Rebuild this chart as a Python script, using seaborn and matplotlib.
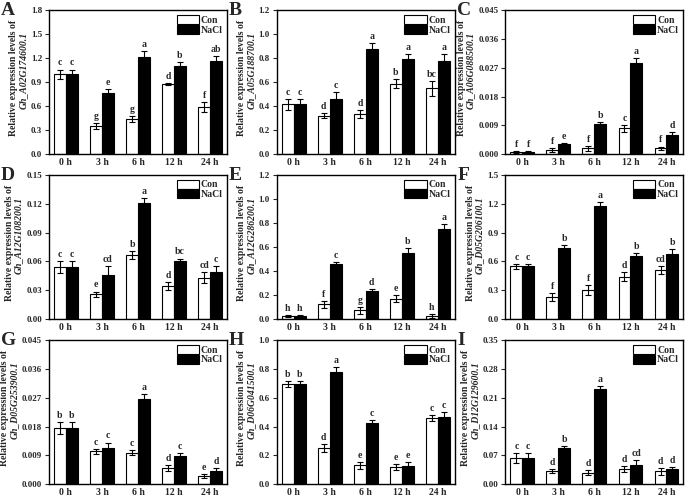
import numpy as np
import pandas as pd
import matplotlib.pyplot as plt
import seaborn as sns
from matplotlib.patches import Patch
from matplotlib.ticker import FormatStrFormatter

# x categories
times = ['0 h', '3 h', '6 h', '12 h', '24 h']

# panel A  Gh_A02G174600.1
a_con = [1.00, 0.35, 0.44, 0.88, 0.59]
a_con_sd = [0.06, 0.04, 0.04, 0.01, 0.06]
a_nacl = [1.00, 0.77, 1.22, 1.10, 1.17]
a_nacl_sd = [0.06, 0.05, 0.07, 0.05, 0.055]
a_con_lt = ['c', 'g', 'g', 'd', 'f']
a_nacl_lt = ['c', 'e', 'a', 'b', 'ab']

# panel B  Gh_A05G188700.1
b_con = [0.415, 0.32, 0.335, 0.59, 0.55]
b_con_sd = [0.045, 0.02, 0.035, 0.04, 0.06]
b_nacl = [0.415, 0.46, 0.875, 0.795, 0.775]
b_nacl_sd = [0.045, 0.06, 0.05, 0.045, 0.06]
b_con_lt = ['c', 'd', 'd', 'b', 'bc']
b_nacl_lt = ['c', 'c', 'a', 'a', 'a']

# panel C  Gh_A06G088500.1
c_con = [0.0008, 0.0013, 0.0018, 0.0081, 0.0018]
c_con_sd = [0.0003, 0.0005, 0.0007, 0.001, 0.0006]
c_nacl = [0.0008, 0.0031, 0.0094, 0.0284, 0.0059]
c_nacl_sd = [0.0003, 0.0005, 0.0008, 0.0016, 0.0011]
c_con_lt = ['f', 'f', 'f', 'c', 'f']
c_nacl_lt = ['f', 'e', 'b', 'a', 'd']

# panel D  Gh_A12G108200.1
d_con = [0.054, 0.0255, 0.067, 0.0343, 0.043]
d_con_sd = [0.006, 0.003, 0.004, 0.004, 0.006]
d_nacl = [0.054, 0.0456, 0.121, 0.060, 0.049]
d_nacl_sd = [0.006, 0.010, 0.005, 0.003, 0.006]
d_con_lt = ['c', 'e', 'b', 'd', 'cd']
d_nacl_lt = ['c', 'cd', 'a', 'bc', 'c']

# panel E  Gh_A12G286200.1
e_con = [0.025, 0.12, 0.07, 0.17, 0.025]
e_con_sd = [0.01, 0.03, 0.03, 0.03, 0.015]
e_nacl = [0.025, 0.46, 0.23, 0.55, 0.75]
e_nacl_sd = [0.01, 0.015, 0.02, 0.04, 0.04]
e_con_lt = ['h', 'f', 'g', 'e', 'h']
e_nacl_lt = ['h', 'c', 'd', 'b', 'a']

# panel F  Gh_D05G206100.1
f_con = [0.55, 0.23, 0.30, 0.44, 0.51]
f_con_sd = [0.025, 0.04, 0.05, 0.045, 0.045]
f_nacl = [0.55, 0.735, 1.18, 0.657, 0.68]
f_nacl_sd = [0.025, 0.04, 0.04, 0.03, 0.05]
f_con_lt = ['c', 'f', 'f', 'd', 'cd']
f_nacl_lt = ['c', 'b', 'a', 'b', 'b']

# panel G  Gh_D05G253900.1
g_con = [0.0175, 0.0102, 0.0098, 0.0051, 0.0026]
g_con_sd = [0.0018, 0.0008, 0.0007, 0.0009, 0.0006]
g_nacl = [0.0175, 0.0112, 0.0265, 0.0087, 0.0041]
g_nacl_sd = [0.0018, 0.0018, 0.0018, 0.0009, 0.001]
g_con_lt = ['b', 'c', 'c', 'd', 'e']
g_nacl_lt = ['b', 'c', 'a', 'c', 'd']

# panel H  Gh_D06G041500.1
h_con = [0.696, 0.253, 0.13, 0.118, 0.46]
h_con_sd = [0.02, 0.028, 0.022, 0.02, 0.018]
h_nacl = [0.696, 0.777, 0.425, 0.128, 0.466]
h_nacl_sd = [0.02, 0.04, 0.023, 0.022, 0.035]
h_con_lt = ['b', 'd', 'e', 'e', 'c']
h_nacl_lt = ['b', 'a', 'c', 'e', 'c']

# panel I  Gh_D12G129600.1
i_con = [0.063, 0.032, 0.028, 0.036, 0.031]
i_con_sd = [0.013, 0.005, 0.007, 0.007, 0.009]
i_nacl = [0.063, 0.088, 0.231, 0.046, 0.036]
i_nacl_sd = [0.013, 0.004, 0.008, 0.012, 0.005]
i_con_lt = ['c', 'd', 'd', 'd', 'd']
i_nacl_lt = ['c', 'b', 'a', 'cd', 'd']

panels = [
    ('A', 'Gh_A02G174600.1', a_con, a_con_sd, a_nacl, a_nacl_sd, a_con_lt, a_nacl_lt, 1.8, 0.3, '%.1f'),
    ('B', 'Gh_A05G188700.1', b_con, b_con_sd, b_nacl, b_nacl_sd, b_con_lt, b_nacl_lt, 1.2, 0.2, '%.1f'),
    ('C', 'Gh_A06G088500.1', c_con, c_con_sd, c_nacl, c_nacl_sd, c_con_lt, c_nacl_lt, 0.045, 0.009, '%.3f'),
    ('D', 'Gh_A12G108200.1', d_con, d_con_sd, d_nacl, d_nacl_sd, d_con_lt, d_nacl_lt, 0.15, 0.03, '%.2f'),
    ('E', 'Gh_A12G286200.1', e_con, e_con_sd, e_nacl, e_nacl_sd, e_con_lt, e_nacl_lt, 1.2, 0.2, '%.1f'),
    ('F', 'Gh_D05G206100.1', f_con, f_con_sd, f_nacl, f_nacl_sd, f_con_lt, f_nacl_lt, 1.5, 0.3, '%.1f'),
    ('G', 'Gh_D05G253900.1', g_con, g_con_sd, g_nacl, g_nacl_sd, g_con_lt, g_nacl_lt, 0.045, 0.009, '%.3f'),
    ('H', 'Gh_D06G041500.1', h_con, h_con_sd, h_nacl, h_nacl_sd, h_con_lt, h_nacl_lt, 1.0, 0.2, '%.1f'),
    ('I', 'Gh_D12G129600.1', i_con, i_con_sd, i_nacl, i_nacl_sd, i_con_lt, i_nacl_lt, 0.35, 0.07, '%.2f'),
]

sns.set_theme(style='ticks')
plt.rcParams['font.family'] = ['Liberation Serif', 'DejaVu Serif']
plt.rcParams['font.weight'] = 'bold'
plt.rcParams['axes.linewidth'] = 1.0

fig = plt.figure(figsize=(6.85, 4.99), dpi=100)

col_left = [0.0715, 0.404, 0.7377]
row_bottom = [0.691, 0.361, 0.030]
ax_w, ax_h = 0.26, 0.288

axes = []
for k, (tag, gene, con, con_sd, nacl, nacl_sd, con_lt, nacl_lt, ymax, step, fmt) in enumerate(panels):
    ax = fig.add_axes([col_left[k % 3], row_bottom[k // 3], ax_w, ax_h])
    axes.append(ax)
    df = pd.DataFrame({
        'time': times * 2,
        'group': ['Con'] * 5 + ['NaCl'] * 5,
        'value': con + nacl,
    })
    sns.barplot(data=df, x='time', y='value', hue='group', order=times,
                hue_order=['Con', 'NaCl'], palette={'Con': 'white', 'NaCl': 'black'},
                edgecolor='black', linewidth=0.8, width=0.66, errorbar=None,
                legend=False, ax=ax)

    sds = [con_sd, nacl_sd]
    lts = [con_lt, nacl_lt]
    means = [con, nacl]
    bar_sets = list(ax.containers)
    for h, cont in enumerate(bar_sets):
        for j, bar in enumerate(cont.patches):
            xc = bar.get_x() + bar.get_width() / 2
            ax.errorbar(xc, means[h][j], yerr=sds[h][j], color='black',
                        elinewidth=0.8, capsize=2.2, capthick=0.8)
            ax.annotate(lts[h][j], (xc, means[h][j] + sds[h][j]),
                        xytext=(0, 1.5), textcoords='offset points',
                        ha='center', va='bottom', fontsize=7, fontweight='bold')

    ax.set_xlim(-0.47, 4.47)
    ax.set_ylim(0, ymax)
    ax.set_yticks(np.arange(0, ymax + step / 2, step))
    ax.yaxis.set_major_formatter(FormatStrFormatter(fmt))
    ax.tick_params(axis='y', length=3, width=0.8, labelsize=6.4, pad=2)
    ax.tick_params(axis='x', length=0, labelsize=7, pad=3)
    for lab in ax.get_xticklabels() + ax.get_yticklabels():
        lab.set_fontweight('bold')
    ax.set_xlabel('')
    ax.set_ylabel('')
    for sp in ax.spines.values():
        sp.set_visible(True)
        sp.set_color('black')

    handles = [Patch(facecolor='white', edgecolor='black', linewidth=0.8, label='Con'),
               Patch(facecolor='black', edgecolor='black', linewidth=0.8, label='NaCl')]
    ax.legend(handles=handles, loc='upper right', frameon=False,
              prop={'size': 7, 'weight': 'bold', 'family': 'Liberation Serif'},
              handlelength=2.3, handleheight=1.05, handletextpad=0.2,
              labelspacing=0.0, borderaxespad=0.35, borderpad=0.1)

    ax.text(-0.27, 1.0, tag, transform=ax.transAxes, ha='left', va='center',
            fontsize=14, fontweight='bold')

# y labels sit just left of each panel's tick labels
fig.canvas.draw()
renderer = fig.canvas.get_renderer()
W, H = fig.bbox.width, fig.bbox.height
for ax, p in zip(axes, panels):
    left_px = min(t.get_window_extent(renderer).x0 for t in ax.get_yticklabels())
    box = ax.get_position()
    fig.text((left_px - 17) / W, box.y0 + 0.53 * box.height, 'Relative expression levels of',
             rotation=90, ha='center', va='center', fontsize=7, fontweight='bold')
    fig.text((left_px - 7.5) / W, box.y0 + 0.58 * box.height, p[1], rotation=90,
             ha='center', va='center', fontsize=7, fontweight='bold', style='italic')

fig.savefig('out.png', dpi=100)
